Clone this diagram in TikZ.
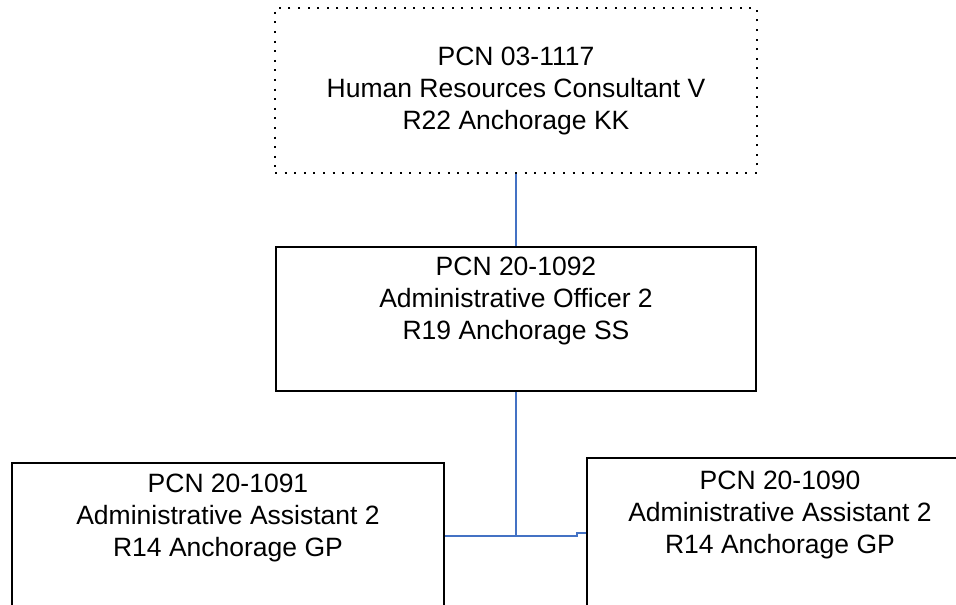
\documentclass[tikz,border=0pt]{standalone}
\usepackage{fontspec}
\setmainfont{Liberation Sans}
\definecolor{linkblue}{RGB}{68,114,196}
\begin{document}
\begin{tikzpicture}[x=1pt,y=1pt]
            \tikzset{
                posbox/.style={draw, line width=2pt, inner sep=0pt, align=center,
                    font=\fontsize{26.5}{32}\selectfont},
                vacant/.style={posbox, line width=2pt, dash pattern=on 2pt off 7.6pt},
                link/.style={draw=linkblue, line width=1.4pt},}
            \clip (0,0) rectangle (956,-605);
            \node [vacant, minimum width=482, minimum height=165] (hrc) at (516,-90.5)
                {PCN 03-1117\\Human Resources Consultant V\\R22 Anchorage KK};
            \node [posbox, minimum width=480, minimum height=144] (ao) at (516,-319)
                {PCN 20-1092\\Administrative Officer 2\\R19 Anchorage SS\\\strut};
            \node [posbox, minimum width=432, minimum height=146] (aa1) at (228,-536)
                {PCN 20-1091\\Administrative Assistant 2\\R14 Anchorage GP\\\strut};
            \node [posbox, minimum width=386, minimum height=150] (aa2) at (780,-533)
                {PCN 20-1090\\Administrative Assistant 2\\R14 Anchorage GP\\\strut};
            % reporting lines
            \draw [link] (hrc.south) -- (ao.north);
            \draw [link] (ao.south) -- (ao.south |- aa1.east);
            \draw [link] (aa1.east) -- ++(132,0) |- (aa2.west);
        \end{tikzpicture}
\end{document}
